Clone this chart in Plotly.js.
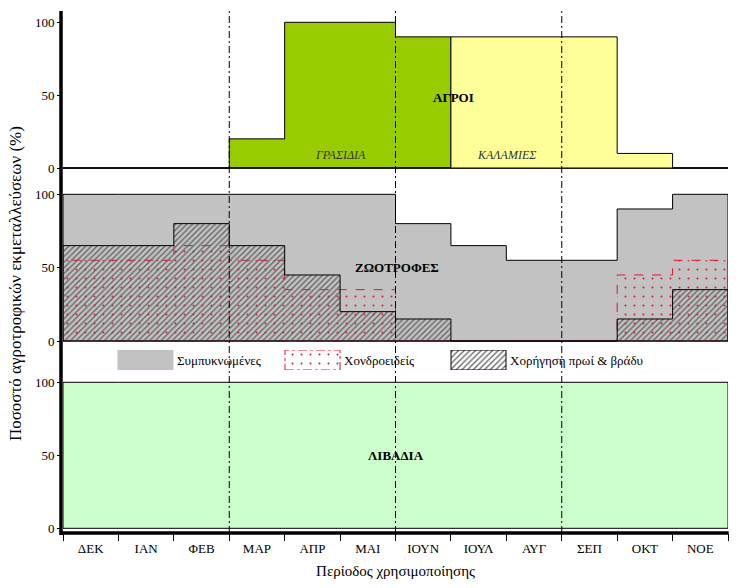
<!DOCTYPE html>
<html><head><meta charset="utf-8">
<script src="https://cdn.plot.ly/plotly-3.0.1.min.js"></script>
<style>html,body{margin:0;padding:0;background:#fff}#chart{width:752px;height:588px}</style>
</head><body><div id="chart"></div>
<script>
// ---------- data ----------
const months = ['ΔΕΚ','ΙΑΝ','ΦΕΒ','ΜΑΡ','ΑΠΡ','ΜΑΙ','ΙΟΥΝ','ΙΟΥΛ','ΑΥΓ','ΣΕΠ','ΟΚΤ','ΝΟΕ'];
const grasidia       = [0,0,0,20,100,100,90,0,0,0,0,0];
const kalamies       = [0,0,0,0,0,0,0,90,90,90,10,0];
const sympyknomenes  = [100,100,100,100,100,100,80,65,55,55,90,100];
const chondroeideis  = [55,55,65,55,35,35,0,0,0,0,45,55];
const chorigisi      = [65,65,80,65,45,20,15,0,0,0,15,35];
const livadia        = [100,100,100,100,100,100,100,100,100,100,100,100];
const yTicks = [0,50,100];
const seasonBreaks = [3,6,9];
const legendLabels = ['Συμπυκνωμένες','Χονδροειδείς','Χορήγηση πρωί & βράδυ'];

// ---------- helpers ----------
function stepPoly(vals){
  const x=[0], y=[0];
  vals.forEach((v,i)=>{ x.push(i,i+1); y.push(v,v); });
  x.push(vals.length, 0); y.push(0, 0);
  return {x, y};
}
const FONT = '"Liberation Serif", "DejaVu Serif", "Times New Roman", serif';
const RED = '#E3142C';
const nM = months.length;
const bounds = Array.from({length:nM+1},(_,i)=>i);
const centers = months.map((_,i)=>i+0.5);

function area(vals, yaxis, fillcolor, line, pattern){
  const p = stepPoly(vals);
  const t = {x:p.x, y:p.y, xaxis:'x', yaxis:yaxis, type:'scatter', mode:'lines',
    fill:'toself', fillcolor:fillcolor, line:line, showlegend:false, hoverinfo:'skip'};
  if(pattern) t.fillpattern = pattern;
  return t;
}
const DOTS = {shape:'.', fgcolor:RED, bgcolor:'rgba(0,0,0,0)', size:9, solidity:0.04};
const HATCH = {shape:'/', fgcolor:'#5e5e5e', bgcolor:'rgba(0,0,0,0)', size:4, solidity:0.3};

const traces = [
  area(grasidia,'y','#99CC00',{color:'black',width:1}),
  area(kalamies,'y','#FFFF99',{color:'black',width:1}),
  area(sympyknomenes,'y2','#C2C2C2',{color:'black',width:1}),
  area(chondroeideis,'y2','rgba(0,0,0,0)',{color:RED,width:1,dash:'dash'}, DOTS),
  area(chorigisi,'y2','rgba(0,0,0,0)',{color:'black',width:1}, HATCH),
  area(livadia,'y3','#CCFFCC',{color:'black',width:1}),
  {x:[], y:[], xaxis:'x2', yaxis:'y3', type:'scatter', showlegend:false}
];

// ---------- custom legend (swatches on a hidden pixel axis) ----------
const legendX = [118, 285, 451];
const legendW = 55;
const legendStyles = [
  {fillcolor:'#C2C2C2', line:{color:'#C2C2C2',width:1}},
  {fillcolor:'white', line:{color:RED,width:1,dash:'dashdot'},
   fillpattern:Object.assign({}, DOTS, {bgcolor:'white'})},
  {fillcolor:'white', line:{color:'black',width:1},
   fillpattern:Object.assign({}, HATCH, {bgcolor:'white'})}
];
legendX.forEach((x0,i)=>{
  const x1 = x0+legendW;
  const t = Object.assign({x:[x0,x1,x1,x0,x0], y:[0,0,1,1,0], xaxis:'x4', yaxis:'y4',
    type:'scatter', mode:'lines', fill:'toself', showlegend:false, hoverinfo:'skip'}, legendStyles[i]);
  traces.push(t);
});

// ---------- layout ----------
const H = 523, TOP = 10; // plot area px
const py = px => (TOP + H - px)/H;  // pixel y -> paper

const annotations = [
  {text:'<b>ΑΓΡΟΙ</b>', x:7.05, y:48.7, xref:'x', yref:'y', showarrow:false, font:{family:FONT,size:13,color:'black'}},
  {text:'<i>ΓΡΑΣΙΔΙΑ</i>', x:5.0, y:9, xref:'x', yref:'y', showarrow:false, font:{family:FONT,size:12,color:'#333'}},
  {text:'<i>ΚΑΛΑΜΙΕΣ</i>', x:8.0, y:9, xref:'x', yref:'y', showarrow:false, font:{family:FONT,size:12,color:'#333'}},
  {text:'<b>ΖΩΟΤΡΟΦΕΣ</b>', x:6.03, y:50, xref:'x', yref:'y2', showarrow:false, font:{family:FONT,size:13,color:'black'}},
  {text:'<b>ΛΙΒΑΔΙΑ</b>', x:6.0, y:50, xref:'x', yref:'y3', showarrow:false, font:{family:FONT,size:13,color:'black'}},
  {text:'Ποσοστό αγροτροφικών εκμεταλλεύσεων (%)', xref:'paper', yref:'paper', x:-0.072, y:py(284),
   xanchor:'center', yanchor:'middle',
   textangle:-90, showarrow:false, font:{family:FONT,size:17,color:'black'}}
];
legendX.forEach((x0,i)=>{
  annotations.push({text:legendLabels[i], x:x0+legendW+2, y:0.5, xref:'x4', yref:'y4', xanchor:'left',
    showarrow:false, font:{family:FONT,size:13,color:'black'}});
});

const shapes = [];
seasonBreaks.forEach(b=>{
  shapes.push({type:'line', xref:'x', yref:'paper', x0:b, x1:b, y0:0, y1:py(11),
    line:{color:'black', width:1, dash:'7px,3px,2px,3px'}, layer:'above'});
});
shapes.push({type:'line', xref:'paper', yref:'paper', x0:-0.003, x1:-0.003, y0:py(535), y1:py(11),
  line:{color:'black', width:3.5}, layer:'above'});
shapes.push({type:'line', xref:'paper', yref:'paper', x0:-0.005, x1:1.001, y0:py(533), y1:py(533),
  line:{color:'black', width:3.5}, layer:'above'});

const yBase = {tickvals:yTicks, ticks:'outside', ticklen:5, tickcolor:'black', showgrid:false,
  zeroline:false, showline:false, anchor:'x', tickfont:{family:FONT,size:13,color:'black'}, fixedrange:true};

const layout = {
  width:752, height:588,
  margin:{l:63, r:24, t:TOP, b:588-TOP-H},
  paper_bgcolor:'white', plot_bgcolor:'white',
  showlegend:false, hovermode:false,
  font:{family:FONT, color:'black'},
  xaxis:{range:[0,nM], tickvals:bounds, ticks:'outside', ticklen:7, tickcolor:'black',
    showticklabels:false, showgrid:false, zeroline:false, showline:false, anchor:'y3'},
  xaxis2:{range:[0,nM], overlaying:'x', anchor:'y3', side:'bottom', tickvals:centers, ticktext:months,
    ticks:'', showgrid:false, zeroline:false, showline:false, ticklabelstandoff:6,
    tickfont:{family:FONT,size:13,color:'black'},
    title:{text:'Περίοδος χρησιμοποίησης', font:{family:FONT,size:15,color:'black'}, standoff:10}},
  yaxis: Object.assign({}, yBase, {domain:[py(180), 1], range:[(168-180)/1.457, (168-TOP)/1.457]}),
  yaxis2: Object.assign({}, yBase, {domain:[py(345), py(184)], range:[(341-345)/1.467, (341-184)/1.467]}),
  yaxis3: Object.assign({}, yBase, {domain:[0, py(378)], range:[(528.3-533)/1.46, (528.3-378)/1.46]}),
  xaxis4:{domain:[0,1], range:[63,728], visible:false, anchor:'y4', fixedrange:true},
  yaxis4:{domain:[py(370), py(350)], range:[0,1], visible:false, anchor:'x4', fixedrange:true},
  annotations:annotations,
  shapes:shapes
};

Plotly.newPlot('chart', traces, layout, {displayModeBar:false, staticPlot:true});
</script></body></html>
